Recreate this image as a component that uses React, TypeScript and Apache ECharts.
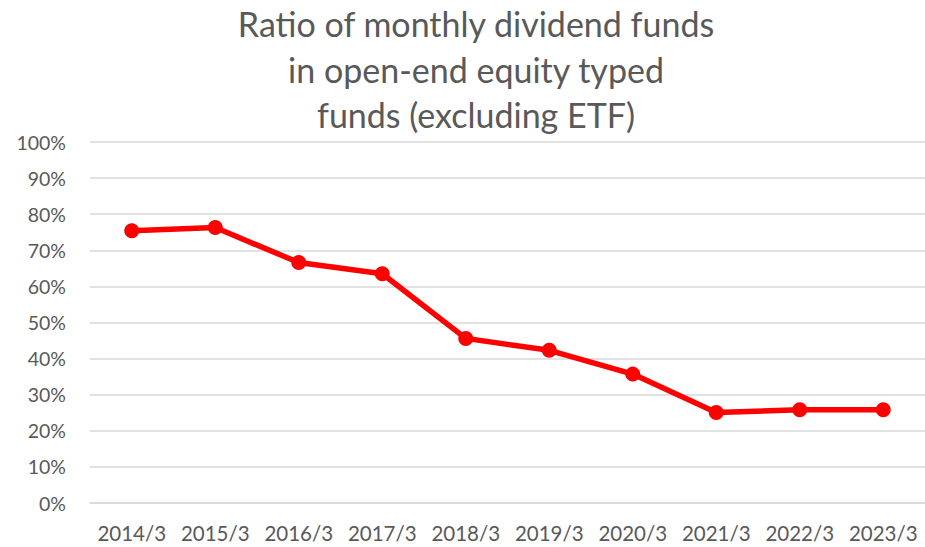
import React, { useEffect, useRef } from "react";
import * as echarts from "echarts";

const categories = ["2014/3", "2015/3", "2016/3", "2017/3", "2018/3", "2019/3", "2020/3", "2021/3", "2022/3", "2023/3"];
const ratios = [75.4, 76.3, 66.6, 63.5, 45.6, 42.3, 35.7, 25.1, 25.8, 25.8];
const titleLines = ["Ratio of monthly dividend funds", "in open-end equity typed", "funds (excluding ETF)"];

export default function App() {
  const ref = useRef<HTMLDivElement>(null);
  useEffect(() => {
    if (!ref.current) return;
    const chart = echarts.init(ref.current, null, { renderer: "svg" });
    chart.setOption({
      animation: false,
      backgroundColor: "#ffffff",
      title: {
        text: titleLines.join("\n"),
        left: 471,
        top: -4,
        textAlign: "center",
        textStyle: {
          fontFamily: "Lato",
          fontWeight: "normal",
          fontSize: 34,
          lineHeight: 45.5,
          color: "#595959",
        },
      },
      grid: { left: 90, right: -2, top: 142, bottom: 44, containLabel: false },
      xAxis: {
        type: "category",
        data: categories,
        boundaryGap: true,
        axisLine: { show: true, lineStyle: { color: "#d9d9d9", width: 1.5 } },
        axisTick: { show: false },
        axisLabel: { color: "#595959", fontSize: 20.5, fontFamily: "Lato", margin: 19, interval: 0, hideOverlap: false },
      },
      yAxis: {
        type: "value",
        min: 0,
        max: 100,
        interval: 10,
        axisLine: { show: false },
        axisTick: { show: false },
        axisLabel: { color: "#595959", fontSize: 19.5, fontFamily: "Lato", margin: 24, formatter: "{value}%" },
        splitLine: { lineStyle: { color: "#d9d9d9", width: 1.5 } },
      },
      series: [
        {
          type: "line",
          data: ratios,
          symbol: "circle",
          symbolSize: 15,
          lineStyle: { color: "#ff0000", width: 5.5 },
          itemStyle: { color: "#ff0000" },
        },
      ],
    });
    return () => chart.dispose();
  }, []);
  return <div ref={ref} style={{ position: "fixed", left: 0, top: 0, width: 925, height: 547 }} />;
}
